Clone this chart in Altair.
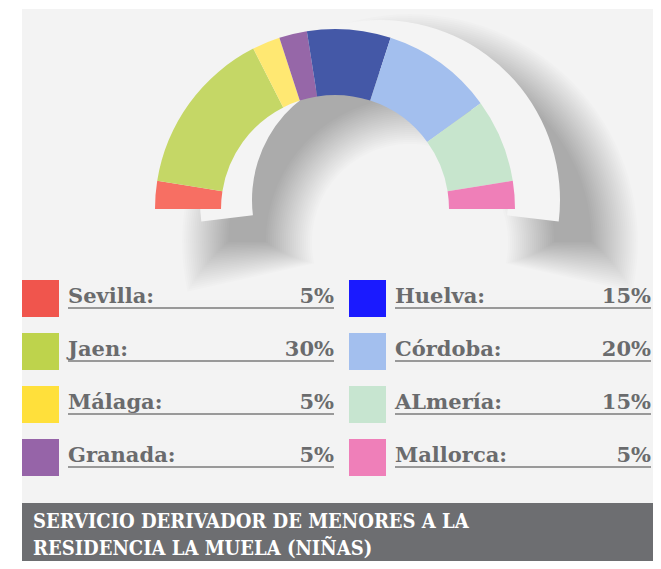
import altair as alt
import pandas as pd

# ---- data ----
names = ["Sevilla", "Jaen", "Málaga", "Granada", "Huelva", "Córdoba", "ALmería", "Mallorca"]
values = [5, 30, 5, 5, 15, 20, 15, 5]
arc_colors = ["#f76f63", "#c5d766", "#ffe872", "#9667a8", "#4458a7", "#a3bfee", "#c7e5cd", "#ef7fb8"]
legend_colors = ["#f0554d", "#bed34c", "#ffe03b", "#9664a8", "#1a1aff", "#a3bfee", "#c7e5d0", "#ef7fb9"]
title_lines = ["SERVICIO DERIVADOR DE MENORES A LA", "RESIDENCIA LA MUELA (NIÑAS)"]

W, H = 645, 553
FONT = "DejaVu Serif"
TFONT = "DejaVu Serif Condensed, DejaVu Serif"
T0, T1 = 4.71238898, 7.85398163

xs = alt.Scale(domain=[0, W], range=[0, W], nice=False, zero=False)
ys = alt.Scale(domain=[0, H], range=[0, H], nice=False, zero=False)

one = pd.DataFrame({"k": [0]})

# panel background
panel = alt.Chart(one).mark_rect(color="#f3f3f3").encode(
    x=alt.value(14), x2=alt.value(W), y=alt.value(1), y2=alt.value(495)
)

# soft shadow (stacked translucent arcs, ends fading)
N = 24
sh_rows = []
for k in range(N):
    ext = 0.22 * (1 - k / (N - 1))
    sh_rows.append({
        "inner": 98 + 2 * k, "outer": 228 - 2 * k,
        "t0": T0 - ext, "t1": T1 + ext,
    })
shadow = alt.Chart(pd.DataFrame(sh_rows)).mark_arc(
    x=402, y=234, color="#000000", opacity=0.0115
).encode(
    theta=alt.Theta("t0:Q", scale=None, stack=None),
    theta2=alt.Theta2("t1:Q"),
    radius=alt.Radius("outer:Q", scale=None),
    radius2=alt.Radius2("inner:Q"),
)

# lifted light arch
light = alt.Chart(one).mark_arc(
    theta=T0 - 0.12, theta2=T1 + 0.12, radius=180, radius2=128, color="#f4f4f4"
).encode(x=alt.value(372), y=alt.value(192))

# donut half
df = pd.DataFrame({
    "idx": list(range(len(names))),
    "name": names,
    "value": values,
    "acolor": arc_colors,
})
donut = alt.Chart(df).mark_arc(radius=180, radius2=114, x=327, y=201).encode(
    theta=alt.Theta("value:Q", stack=True, scale=alt.Scale(range=[T0, T1])),
    color=alt.Color("acolor:N", scale=None),
    order=alt.Order("idx:Q"),
)

# legend layout
rows = []
for i, (n, v, c) in enumerate(zip(names, values, legend_colors)):
    col, r = i // 4, i % 4
    ox = 327 * col
    oy = 53 * r
    rows.append({
        "label": n + ":",
        "pct": f"{v}%",
        "lcolor": c,
        "sx": 14 + ox, "sx2": 51 + ox,
        "sy": 272 + oy, "sy2": 309 + oy,
        "tx": 60 + ox, "ty": 295 + oy,
        "ux2": 326 if col == 0 else 643,
        "uy": 300 + oy,
    })
ldf = pd.DataFrame(rows)

squares = alt.Chart(ldf).mark_rect().encode(
    x=alt.X("sx:Q", scale=xs, axis=None), x2="sx2:Q",
    y=alt.Y("sy:Q", scale=ys, axis=None), y2="sy2:Q",
    color=alt.Color("lcolor:N", scale=None),
)
underline = alt.Chart(ldf).mark_rule(strokeWidth=2, color="#999999").encode(
    x=alt.X("tx:Q", scale=xs, axis=None), x2="ux2:Q",
    y=alt.Y("uy:Q", scale=ys, axis=None),
)
labels = alt.Chart(ldf).mark_text(
    align="left", baseline="alphabetic", fontSize=21, font=FONT,
    fontWeight="bold", color="#6a6b6d"
).encode(
    x=alt.X("tx:Q", scale=xs, axis=None),
    y=alt.Y("ty:Q", scale=ys, axis=None),
    text="label:N",
)
pcts = alt.Chart(ldf).mark_text(
    align="right", baseline="alphabetic", fontSize=21, font=FONT,
    fontWeight="bold", color="#6a6b6d"
).encode(
    x=alt.X("ux2:Q", scale=xs, axis=None),
    y=alt.Y("ty:Q", scale=ys, axis=None),
    text="pct:N",
)

# title bar
bar = alt.Chart(one).mark_rect(color="#6d6e71").encode(
    x=alt.value(14), x2=alt.value(W), y=alt.value(495), y2=alt.value(H)
)
tdf = pd.DataFrame({"line": title_lines, "tx": [25, 25], "ty": [520, 547]})
title = alt.Chart(tdf).mark_text(
    align="left", baseline="alphabetic", fontSize=20, font=TFONT,
    fontWeight="bold", color="#ffffff"
).encode(
    x=alt.X("tx:Q", scale=xs, axis=None),
    y=alt.Y("ty:Q", scale=ys, axis=None),
    text="line:N",
)

chart = alt.layer(
    panel, shadow, light, donut, squares, underline, labels, pcts, bar, title
).properties(
    width=W, height=H, padding=0,
    autosize=alt.AutoSizeParams(type="none"),
    background="#ffffff",
).configure_view(stroke=None)

chart.save("out.html", embed_options={"renderer": "svg", "actions": False})
